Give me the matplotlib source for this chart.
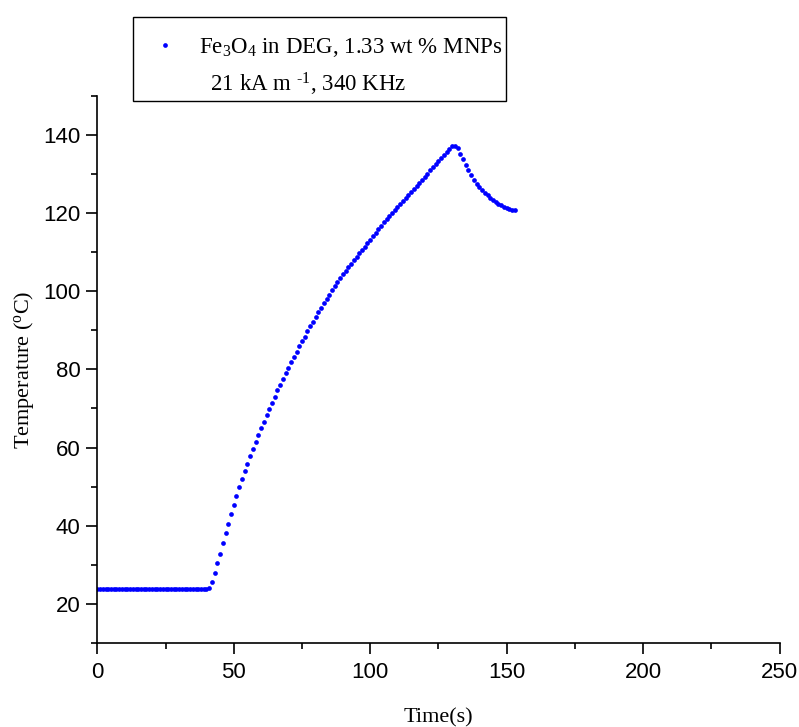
import numpy as np
import matplotlib.pyplot as plt
from matplotlib.lines import Line2D

plt.rcParams['mathtext.fontset'] = 'custom'
plt.rcParams['mathtext.rm'] = 'Liberation Serif'
plt.rcParams['mathtext.it'] = 'Liberation Serif:italic'
plt.rcParams['mathtext.bf'] = 'Liberation Serif:bold'

# temperature, one sample per second from t = 0 s
flat = [23.7] * 41  # t = 0 .. 40
rise = [24.2, 25.5, 27.8, 30.4, 32.9, 35.6, 38.1, 40.5, 43.0, 45.3,
        47.6, 49.8, 51.9, 53.9, 55.9, 57.8, 59.6, 61.4, 63.1, 64.9,
        66.6, 68.3, 69.9, 71.5, 73.0, 74.6, 76.1, 77.5, 79.0, 80.4,
        81.9, 83.2, 84.5, 85.9, 87.2, 88.4, 89.7, 91.0, 92.2, 93.5,
        94.6, 95.8, 96.9, 98.0, 99.1, 100.2, 101.3, 102.3, 103.3, 104.3,
        105.2, 106.1, 107.0, 107.9, 108.8, 109.7, 110.6, 111.4, 112.3, 113.1,
        114.0, 114.9, 115.9, 116.8, 117.6, 118.4, 119.2, 120.0, 120.7, 121.5,
        122.3, 123.1, 123.9, 124.6, 125.4, 126.2, 127.0, 127.7, 128.5, 129.3,
        130.1, 130.9, 131.7, 132.5, 133.3, 134.1, 134.9, 135.7, 136.5, 137.2]  # t = 41 .. 130
cool = [137.1, 136.6, 135.2, 133.7, 132.3, 131.0, 129.7, 128.5, 127.5, 126.6,
        125.8, 125.1, 124.5, 123.9, 123.4, 122.9, 122.4, 122.0, 121.6, 121.3,
        121.0, 120.9, 120.9]  # t = 131 .. 153

temp = np.array(flat + rise + cool)
time = np.arange(len(temp))

label1 = 'Fe$_3$O$_4$ in DEG, 1.33 wt % MNPs'
label2 = '  21 kA m $^{\\text{-}1}$, 340 KHz'

fig = plt.figure(figsize=(7.99, 7.27), dpi=100)
ax = fig.add_axes([0.1218, 0.1155, 0.8538, 0.7528])

ax.plot(time, temp, 'o', color='#0000ff', ms=3.4, mec='none')

ax.set_xlim(0, 250)
ax.set_ylim(10, 150)
ax.set_xticks([0, 50, 100, 150, 200, 250])
ax.set_xticks([25, 75, 125, 175, 225], minor=True)
ax.set_yticks([20, 40, 60, 80, 100, 120, 140])
ax.set_yticks([10, 30, 50, 70, 90, 110, 130, 150], minor=True)

for s in ['top', 'right']:
    ax.spines[s].set_visible(False)
for s in ['left', 'bottom']:
    ax.spines[s].set_linewidth(1.2)

ax.tick_params(which='major', direction='out', length=7.7, width=1.2)
ax.tick_params(which='minor', direction='out', length=4, width=1.2)
ax.tick_params(axis='x', pad=6)
ax.tick_params(axis='y', pad=4.5)
for lab in ax.get_xticklabels() + ax.get_yticklabels():
    lab.set_fontfamily('Liberation Sans')
    lab.set_fontsize(16)

ax.set_xlabel('Time(s)', fontfamily='Liberation Serif', fontsize=16, labelpad=18)
ax.set_ylabel('Temperature ($^{\\rm o}$C)', fontfamily='Liberation Serif', fontsize=16, labelpad=5)

h1 = Line2D([], [], ls='none', marker='o', color='#0000ff', ms=3.4, mec='none')
h2 = Line2D([], [], ls='none')
leg = ax.legend([h1, h2], [label1, label2], loc='upper left',
                bbox_to_anchor=(133 / 799, 1 - 17 / 727), bbox_transform=fig.transFigure,
                prop={'family': 'Liberation Serif', 'size': 16.5},
                title=' ', title_fontsize=2.5,
                frameon=True, fancybox=False, framealpha=1, edgecolor='black',
                borderaxespad=0, borderpad=0.15, handlelength=2.5, handletextpad=0.25,
                labelspacing=0.5)
leg.get_frame().set_linewidth(1.0)

fig.savefig('out.png', dpi=100)
